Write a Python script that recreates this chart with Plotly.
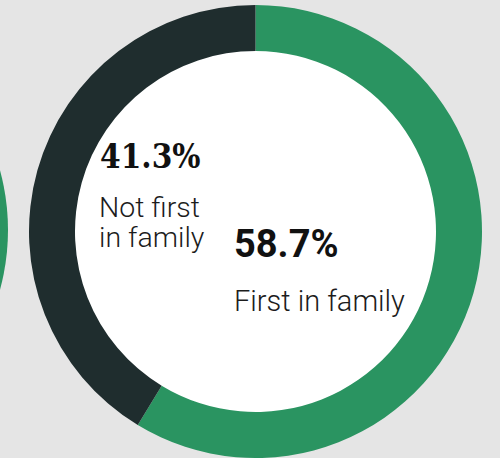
import plotly.graph_objects as go

categories = ["First in family", "Not first in family"]
values = [58.7, 41.3]
colors = ["#2a9461", "#1f2d2e"]
pct_labels = ["58.7%", "41.3%"]

W, H = 500, 458
cx, cy, R, r_in = 255.5, 231.5, 226.5, 180.5

def px(x):
    return x / W

def py(y):
    return 1 - y / H

fig = go.Figure()
fig.add_trace(go.Pie(
    labels=categories,
    values=values,
    hole=r_in / R,
    sort=False,
    direction="clockwise",
    rotation=0,
    marker=dict(colors=colors, line=dict(width=0)),
    textinfo="none",
    hoverinfo="label+percent",
    showlegend=False,
    domain=dict(x=[px(cx - R), px(cx + R)], y=[py(cy + R), py(cy - R)]),
))

shapes = [
    # white inner disc of the donut
    dict(type="circle", xref="paper", yref="paper", layer="below",
         x0=px(cx - r_in - 2), x1=px(cx + r_in + 2),
         y0=py(cy + r_in + 2), y1=py(cy - r_in - 2),
         fillcolor="white", line=dict(width=0)),
    # neighbouring donut, partly visible at the left edge
    dict(type="circle", xref="paper", yref="paper", layer="below",
         x0=px(-219 - 227), x1=px(8),
         y0=py(230 + 227), y1=py(230 - 227),
         fillcolor=colors[0], line=dict(width=0)),
]

ann = []
def add(text, x, y, family, size, weight, color):
    ann.append(dict(text=text, x=px(x), y=py(y), xref="paper", yref="paper",
                    xanchor="left", yanchor="middle", showarrow=False,
                    font=dict(family=family, size=size, weight=weight, color=color)))

add(pct_labels[1], 98, 156, "DejaVu Serif Condensed, DejaVu Serif", 33, 700, "#111111")
add("Not first", 97, 208, "Roboto", 28.5, 300, "#1c1c1c")
add("in family", 97, 237, "Roboto", 28.5, 300, "#1c1c1c")
add(pct_labels[0], 232, 244, "Roboto", 38, 700, "#111111")
add("First in family", 232, 301, "Roboto", 29, 300, "#1c1c1c")

fig.update_layout(
    width=W, height=H,
    margin=dict(l=0, r=0, t=0, b=0),
    paper_bgcolor="#e5e5e5",
    plot_bgcolor="#e5e5e5",
    shapes=shapes,
    annotations=ann,
)

fig.write_html("out.html",
               config={"displayModeBar": False},
               post_script="document.body.style.margin='0';"
                           "document.body.style.background='#e5e5e5';")
